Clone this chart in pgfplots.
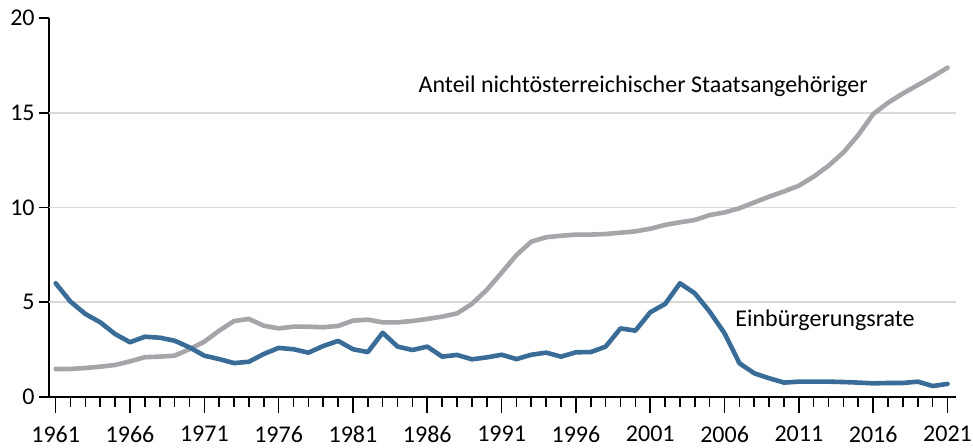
\documentclass[border=0pt]{standalone}
\usepackage{fontspec}
\setmainfont{Carlito}
\usepackage{pgfplots}
\pgfplotsset{compat=1.18}
\definecolor{cBlue}{RGB}{58,108,152}
\definecolor{cGrey}{RGB}{165,165,170}
\definecolor{cGrid}{RGB}{217,217,217}

\begin{document}
\fontsize{12}{14.5}\selectfont
\begin{tikzpicture}
\begin{axis}[
  scale only axis,
  width=453.5pt,
  height=189.5pt,
  xmin=1960.55, xmax=2021.57,
  ymin=0, ymax=20,
  axis x line*=bottom,
  axis y line*=left,
  axis line style={black, line width=0.8pt},
  xtick={1961,...,2021},
  xticklabels={},
  extra x ticks={1961,1966,...,2021},
  extra x tick labels={1961,1966,1971,1976,1981,1986,1991,1996,2001,2006,2011,2016,2021},
  extra x tick style={major tick length=8pt},
  ytick={0,5,10,15,20},
  tick align=outside,
  major tick length=5pt,
  every tick/.style={black, line width=0.8pt},
  extra y ticks={5,10,15},
  extra y tick labels={},
  extra y tick style={grid=major, major tick length=0pt},
  major grid style={draw=cGrid, line width=0.8pt},
  /pgf/number format/assume math mode=true,
  /pgf/number format/set thousands separator={},
  tick label style={font=\fontsize{12}{14.5}\selectfont},
  xticklabel style={yshift=-2.5pt},
  yticklabel style={xshift=2pt},
  clip=false,
]
\addplot[cGrey, line width=2.3pt, line cap=round, line join=round] coordinates {
(1961,1.48) (1962,1.48) (1963,1.53) (1964,1.60) (1965,1.69) (1966,1.88)
(1967,2.10) (1968,2.13) (1969,2.18) (1970,2.52) (1971,2.92) (1972,3.50)
(1973,4.01) (1974,4.12) (1975,3.76) (1976,3.62) (1977,3.71) (1978,3.71)
(1979,3.68) (1980,3.75) (1981,4.03) (1982,4.08) (1983,3.94) (1984,3.94)
(1985,4.01) (1986,4.12) (1987,4.24) (1988,4.41) (1989,4.91) (1990,5.65)
(1991,6.56) (1992,7.49) (1993,8.20) (1994,8.43) (1995,8.51) (1996,8.57)
(1997,8.57) (1998,8.60) (1999,8.67) (2000,8.74) (2001,8.88) (2002,9.08)
(2003,9.22) (2004,9.34) (2005,9.60) (2006,9.74) (2007,9.96) (2008,10.27)
(2009,10.57) (2010,10.85) (2011,11.15) (2012,11.63) (2013,12.21) (2014,12.91)
(2015,13.83) (2016,14.93) (2017,15.53) (2018,16.02) (2019,16.46) (2020,16.90)
(2021,17.38)
};
\addplot[cBlue, line width=2.3pt, line cap=round, line join=round] coordinates {
(1961,6.00) (1962,5.03) (1963,4.38) (1964,3.94) (1965,3.32) (1966,2.89)
(1967,3.18) (1968,3.13) (1969,2.97) (1970,2.62) (1971,2.18) (1972,2.00)
(1973,1.79) (1974,1.86) (1975,2.27) (1976,2.59) (1977,2.52) (1978,2.34)
(1979,2.69) (1980,2.96) (1981,2.52) (1982,2.37) (1983,3.39) (1984,2.66)
(1985,2.48) (1986,2.66) (1987,2.13) (1988,2.22) (1989,1.99) (1990,2.09)
(1991,2.23) (1992,2.00) (1993,2.23) (1994,2.34) (1995,2.13) (1996,2.36)
(1997,2.37) (1998,2.66) (1999,3.62) (2000,3.50) (2001,4.47) (2002,4.91)
(2003,6.00) (2004,5.47) (2005,4.50) (2006,3.36) (2007,1.78) (2008,1.25)
(2009,0.99) (2010,0.76) (2011,0.81) (2012,0.81) (2013,0.81) (2014,0.79)
(2015,0.76) (2016,0.72) (2017,0.74) (2018,0.74) (2019,0.81) (2020,0.58)
(2021,0.69)
};
\node[anchor=east, inner sep=0pt] at (axis cs:2015.66,16.41) {Anteil nichtösterreichischer Staatsangehöriger};
\node[anchor=west, inner sep=0pt] at (axis cs:2006.7,4.05) {Einbürgerungsrate};
\end{axis}
\pgfresetboundingbox
\path[use as bounding box] (-24.5pt,-25.5pt) rectangle (462pt,198.5pt);
\end{tikzpicture}
\end{document}
